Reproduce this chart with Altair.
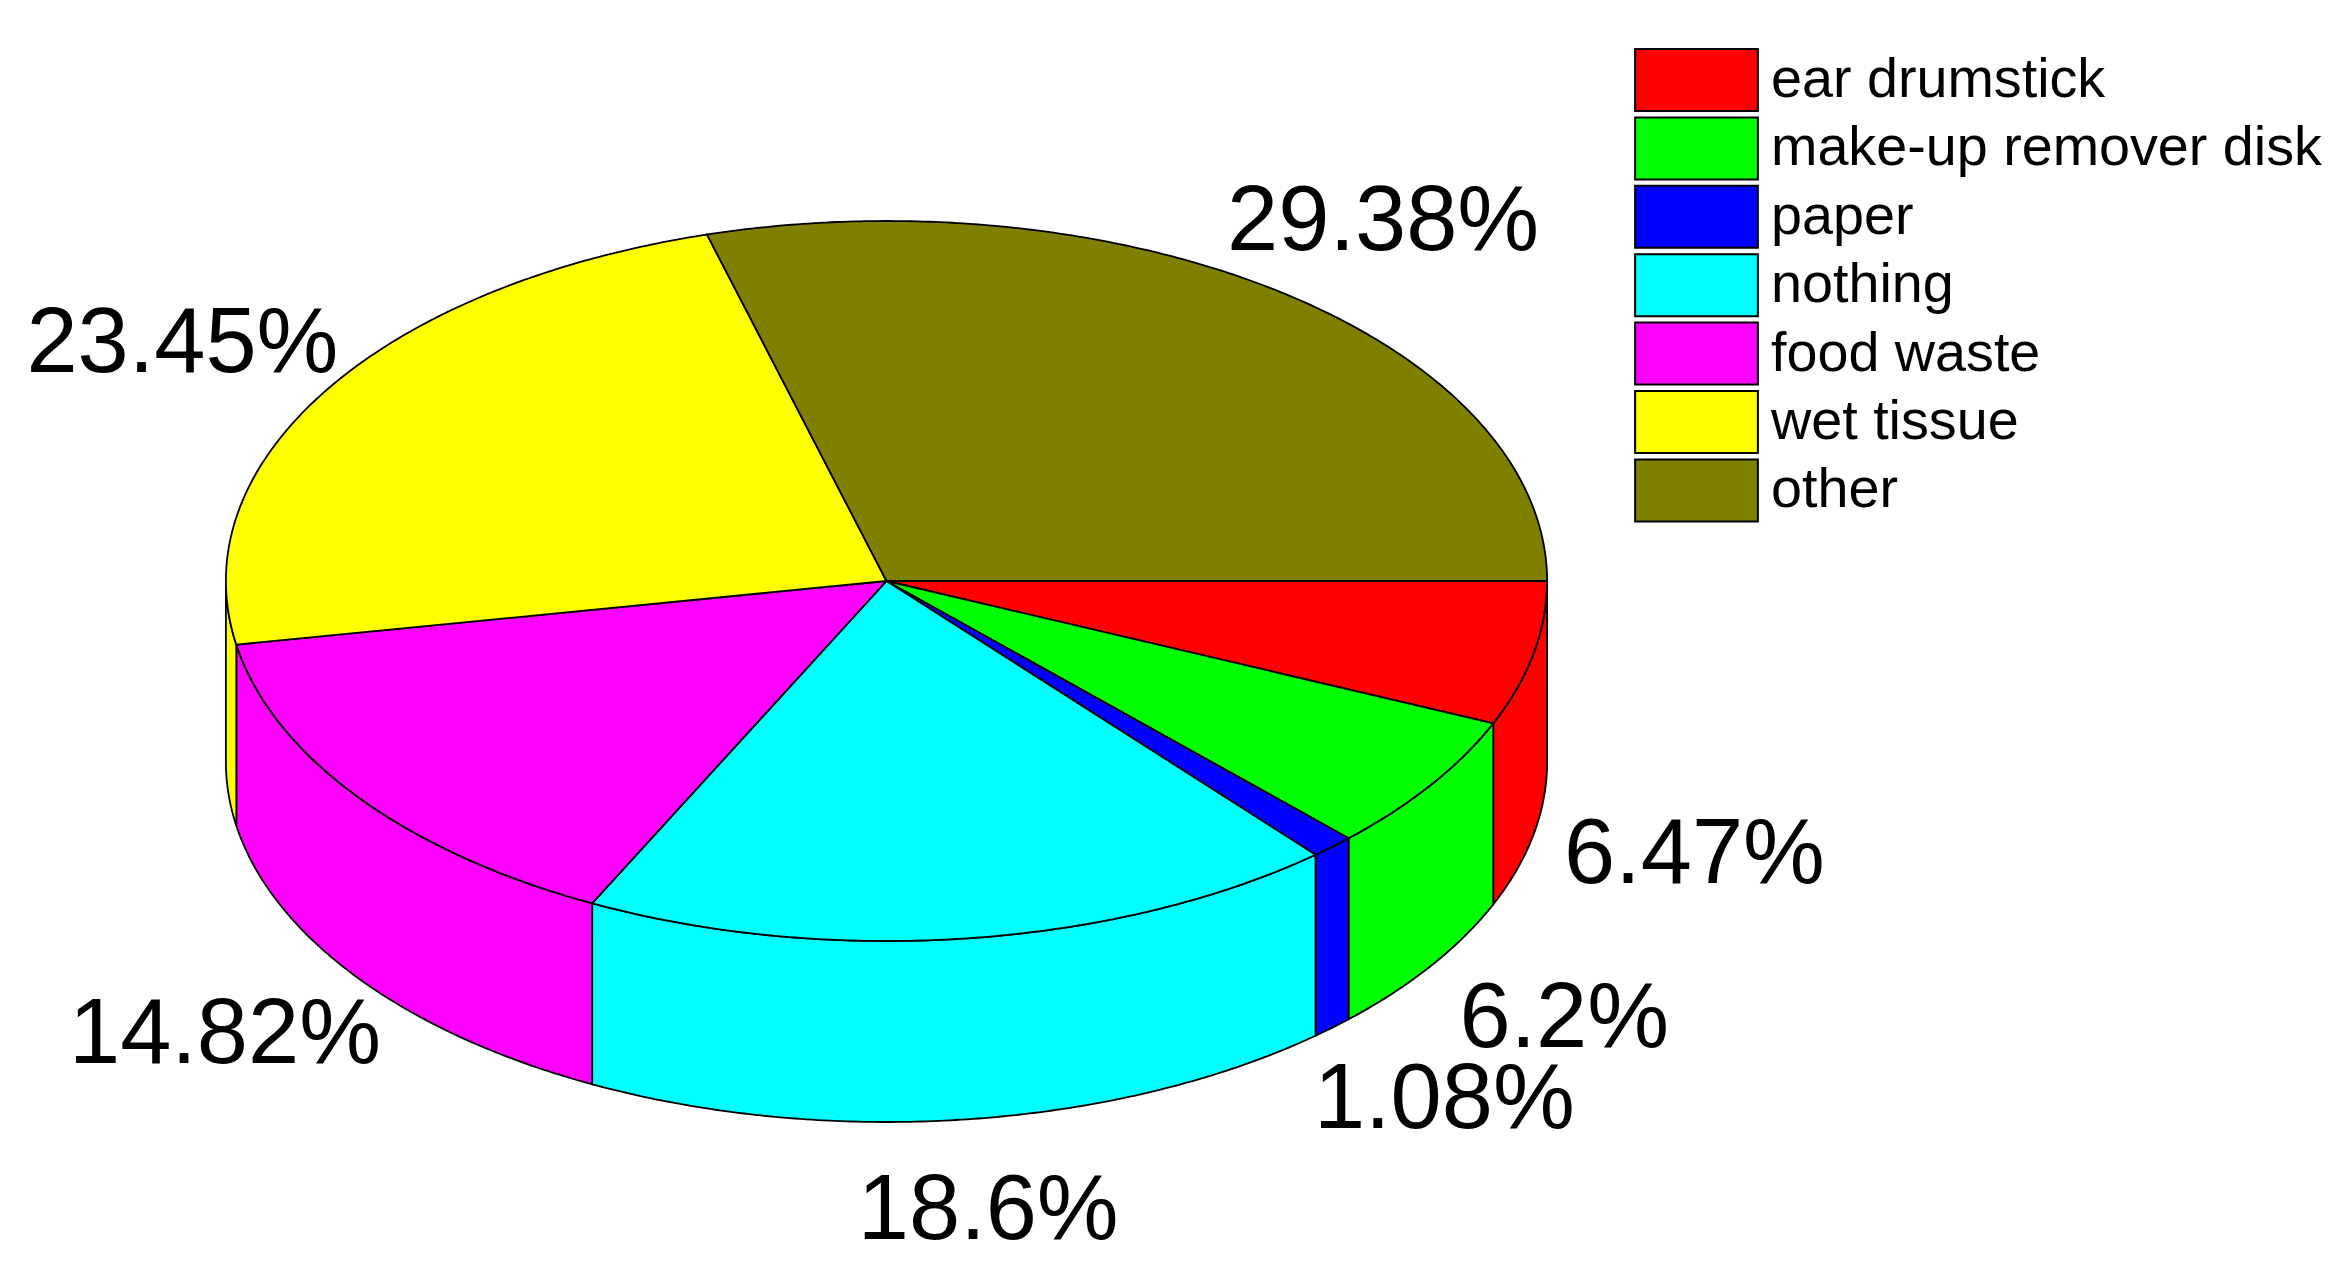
import math
import altair as alt
import pandas as pd

categories = ["ear drumstick", "make-up remover disk", "paper", "nothing", "food waste", "wet tissue", "other"]
shares = [6.47, 6.2, 1.08, 18.6, 14.82, 23.45, 29.38]
labels = ["6.47%", "6.2%", "1.08%", "18.6%", "14.82%", "23.45%", "29.38%"]
colors = ["#ff0000", "#00ff00", "#0000ff", "#00ffff", "#ff00ff", "#ffff00", "#808000"]

# Layout of the tilted pie, in canvas pixels
W, H = 2328, 1254
CX, CY, RX, RY, DEPTH = 878.5, 573.0, 660.6, 360.0, 181.0
LABEL_SHIFT_X = [161, 133, 112, 21, -133, -144, 98]
LABEL_SHIFT_Y = [48, 81, 100, 120, 85, -18, -44]
FONT = "Liberation Sans"


def arc(a0, a1):
    n = max(2, int(abs(a1 - a0) * 2) + 1)
    return [a0 + (a1 - a0) * k / n for k in range(n + 1)]


def rim(a, drop=0.0):
    t = math.radians(a)
    return CX + RX * math.cos(t), CY + RY * math.sin(t) + drop


tops, walls, texts = [], [], []
start = 0.0
for j, (name, share) in enumerate(zip(categories, shares)):
    end = start + share * 3.6
    pts = [(CX, CY)] + [rim(a) for a in arc(start, end)] + [(CX, CY)]
    tops += [{"cat": name, "i": i, "x": p[0], "y": p[1]} for i, p in enumerate(pts)]
    if start < 180:
        stop = min(end, 180.0)
        angles = arc(start, stop)
        outline = [rim(a) for a in angles] + [rim(a, DEPTH) for a in reversed(angles)]
        outline.append(outline[0])
        walls += [{"cat": name, "i": i, "x": p[0], "y": p[1]} for i, p in enumerate(outline)]
    mid = (start + end) / 2
    ax, ay = rim(mid, DEPTH if math.sin(math.radians(mid)) > 0 else 0.0)
    texts.append({"label": labels[j], "x": ax + LABEL_SHIFT_X[j], "y": ay + LABEL_SHIFT_Y[j]})
    start = end

x_enc = alt.X("x:Q", axis=None, scale=alt.Scale(domain=[0, W], nice=False, zero=False))
y_enc = alt.Y("y:Q", axis=None, scale=alt.Scale(domain=[H, 0], nice=False, zero=False))
legend = alt.Legend(
    title=None,
    orient="none",
    legendX=1656.5,
    legendY=40,
    padding=0,
    rowPadding=-1.6,
    symbolSize=3844,
    symbolType="M-1.98,-1H1.98V1H-1.98Z",
    symbolStrokeColor="black",
    symbolStrokeWidth=2,
    symbolOpacity=1,
    labelFont=FONT,
    labelFontSize=55.7,
    labelColor="black",
    labelOffset=42.5,
    labelLimit=700,
    labelOverlap=False,
)
fill_enc = alt.Fill(
    "cat:N",
    scale=alt.Scale(domain=categories, range=colors),
    sort=categories,
    legend=legend,
)


def polygons(rows):
    return (
        alt.Chart(pd.DataFrame(rows))
        .mark_line(filled=True, stroke="black", strokeWidth=1.8, strokeJoin="miter")
        .encode(x=x_enc, y=y_enc, fill=fill_enc, order=alt.Order("i:Q"))
    )


text_layer = (
    alt.Chart(pd.DataFrame(texts))
    .mark_text(font=FONT, fontSize=92, color="black", align="center", baseline="alphabetic")
    .encode(x=x_enc, y=y_enc, text="label:N")
)

chart = (
    alt.layer(polygons(walls), polygons(tops), text_layer)
    .properties(width=W, height=H, padding=0, background="white")
    .configure_view(stroke=None)
)

chart.save("out.html", embed_options={"renderer": "svg", "actions": False})
